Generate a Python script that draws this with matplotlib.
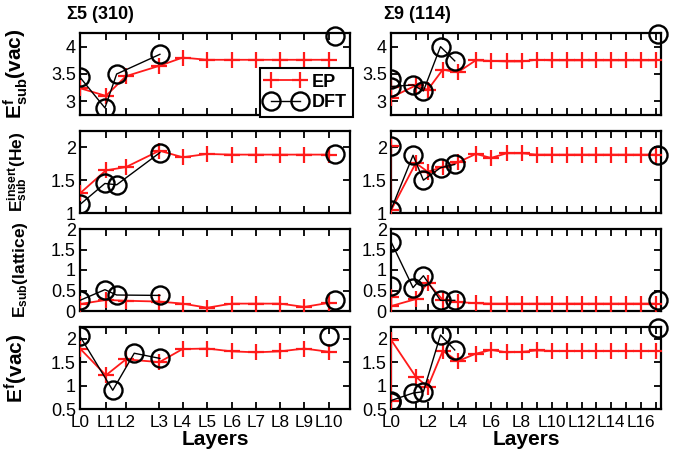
import matplotlib
matplotlib.use("Agg")
import matplotlib.pyplot as plt

plt.rcParams['font.family'] = ['Liberation Sans', 'DejaVu Sans']
plt.rcParams['mathtext.fontset'] = 'custom'
plt.rcParams['mathtext.rm'] = 'Liberation Sans:bold'
plt.rcParams['mathtext.bf'] = 'Liberation Sans:bold'
plt.rcParams['mathtext.it'] = 'Liberation Sans:bold'

# layer positions (distance from the boundary plane)
s5_layer_x = [0, 1.06, 1.88, 3.25, 4.20, 5.21, 6.21, 7.20, 8.19, 9.18, 10.2]
s5_layer_labels = ['L0', 'L1', 'L2', 'L3', 'L4', 'L5', 'L6', 'L7', 'L8', 'L9', 'L10']
s9_layer_x = [0, 1.65, 2.45, 3.45, 4.45, 5.65, 6.67, 7.71, 8.71, 9.71, 10.71,
              11.71, 12.71, 13.67, 14.65, 15.67, 16.65, 17.67]
s9_layer_labels = ['L0', '', 'L2', '', 'L4', '', 'L6', '', 'L8', '', 'L10',
                   '', 'L12', '', 'L14', '', 'L16', '']

# Sigma5 (310): EP on every layer, DFT near the boundary plus one bulk site
s5_ep_vac = [3.24, 3.10, 3.46, 3.65, 3.80, 3.76, 3.76, 3.76, 3.76, 3.76, 3.76]
s5_ep_he = [1.30, 1.65, 1.70, 1.95, 1.85, 1.90, 1.89, 1.89, 1.89, 1.89, 1.89]
s5_ep_lat = [0.17, 0.27, 0.25, 0.23, 0.18, 0.08, 0.18, 0.18, 0.18, 0.10, 0.20]
s5_ep_vf = [1.79, 1.22, 1.56, 1.50, 1.78, 1.79, 1.73, 1.71, 1.73, 1.79, 1.72]

s5_dft_x = [0, 1.02, 1.50, 3.27]
s5_dft_vac = [3.44, 2.88, 3.50, 3.86]
s5_dft_he = [1.13, 1.45, 1.43, 1.92]
s5_dft_lat = [0.26, 0.52, 0.39, 0.38]
s5_dft_vf_x = [0, 1.34, 2.22, 3.27]
s5_dft_vf = [2.05, 0.90, 1.69, 1.58]
s5_bulk_x = [10.42, 10.42, 10.42, 10.2]
s5_bulk = [4.20, 1.90, 0.27, 2.06]

# Sigma9 (114): two inequivalent sites in L0
s9_ep_x = [0] + s9_layer_x
s9_ep_vac = [3.27, 3.07, 3.29, 3.21, 3.58, 3.53, 3.75, 3.74, 3.73, 3.73, 3.76,
             3.75, 3.75, 3.75, 3.75, 3.75, 3.75, 3.75, 3.75]
s9_ep_he = [2.02, 1.04, 1.76, 1.63, 1.70, 1.77, 1.90, 1.84, 1.91, 1.91, 1.89,
            1.89, 1.89, 1.89, 1.89, 1.89, 1.89, 1.89, 1.89]
s9_ep_lat = [0.34, 0.12, 0.29, 0.69, 0.27, 0.22, 0.19, 0.18, 0.18, 0.18, 0.18,
             0.18, 0.18, 0.18, 0.18, 0.18, 0.18, 0.18, 0.18]
s9_ep_vf = [0.67, 1.98, 1.19, 0.97, 1.74, 1.52, 1.68, 1.76, 1.71, 1.72, 1.75,
            1.74, 1.74, 1.74, 1.74, 1.74, 1.74, 1.74, 1.74]

s9_dft_x = [0, 0, 1.47, 2.16, 3.30, 4.25]
s9_dft_vac = [3.41, 3.27, 3.30, 3.19, 4.00, 3.74]
s9_dft_he = [2.02, 1.05, 1.88, 1.50, 1.69, 1.74]
s9_dft_lat = [0.61, 1.69, 0.57, 0.86, 0.26, 0.26]
s9_dft_vf = [0.65, 0.68, 0.84, 0.87, 2.08, 1.76]
s9_bulk_x = 17.8
s9_bulk = [4.23, 1.89, 0.26, 2.22]

ylabels = [r'E$^{f}_{sub}$(vac)', r'E$^{insert}_{sub}$(He)',
           r'E$_{sub}$(lattice)', r'E$^{f}$(vac)']
ylabel_sizes = [15, 12.5, 12.5, 15]
ylims = [(2.75, 4.25), (1, 2.25), (0, 2), (0.5, 2.25)]
yticks = [[3, 3.5, 4], [1, 1.5, 2], [0, 0.5, 1, 1.5, 2], [0.5, 1, 1.5, 2]]
yticklabels = [['3', '3.5', '4'], ['1', '1.5', '2'], ['0', '0.5', '1', '1.5', '2'],
               ['0.5', '1', '1.5', '2']]

s5_ep = [s5_ep_vac, s5_ep_he, s5_ep_lat, s5_ep_vf]
s5_dft = [(s5_dft_x, s5_dft_vac), (s5_dft_x, s5_dft_he),
          (s5_dft_x, s5_dft_lat), (s5_dft_vf_x, s5_dft_vf)]
s9_ep = [s9_ep_vac, s9_ep_he, s9_ep_lat, s9_ep_vf]
s9_dft = [s9_dft_vac, s9_dft_he, s9_dft_lat, s9_dft_vf]

fig = plt.figure(figsize=(6.76, 4.57), dpi=100)
W, H = 676.0, 457.0
tops = [33, 131, 229, 327]
ph = 82

red = '#ff1a1a'
ep_kw = dict(color=red, marker='+', ms=11, mew=1.6, lw=1.3, label='EP', zorder=3)
dft_kw = dict(color='black', marker='o', ms=13, mfc='none', mew=1.7, lw=1.0,
              label='DFT', zorder=4)
bulk_kw = dict(color='black', marker='o', ms=13, mfc='none', mew=1.7, ls='none',
               zorder=4)


def style(ax, xticks, xlabels, row):
    ax.set_ylim(*ylims[row])
    ax.set_yticks(yticks[row])
    ax.set_yticklabels(yticklabels[row])
    ax.set_xticks(xticks)
    ax.set_xticklabels(xlabels if row == 3 else [])
    ax.tick_params(direction='in', top=True, right=True, length=5, width=1.3,
                   labelsize=13, pad=3)
    ax.tick_params(axis='x', pad=4, labelsize=12.3)
    for sp in ax.spines.values():
        sp.set_linewidth(1.6)


for row in range(4):
    bottom = 1 - (tops[row] + ph) / H
    axl = fig.add_axes([80 / W, bottom, 270 / W, ph / H])
    axr = fig.add_axes([391 / W, bottom, 270 / W, ph / H])

    axl.plot(s5_layer_x, s5_ep[row], **ep_kw)
    axl.plot(s5_dft[row][0], s5_dft[row][1], **dft_kw)
    axl.plot([s5_bulk_x[row]], [s5_bulk[row]], clip_on=False, **bulk_kw)
    axl.set_xlim(0, 11.05)
    style(axl, s5_layer_x, s5_layer_labels, row)
    axl.set_ylabel(ylabels[row], fontsize=ylabel_sizes[row], fontweight='bold')
    axl.yaxis.set_label_coords(-0.185, 0.5)

    axr.plot(s9_ep_x, s9_ep[row], **ep_kw)
    axr.plot(s9_dft_x, s9_dft[row], **dft_kw)
    axr.plot([s9_bulk_x], [s9_bulk[row]], clip_on=False, **bulk_kw)
    axr.set_xlim(0, 18)
    style(axr, s9_layer_x, s9_layer_labels, row)

    if row == 0:
        axl.text(-0.05, 1.1, r'$\Sigma$5 (310)', transform=axl.transAxes,
                 fontsize=13, fontweight='bold', va='bottom')
        axr.text(-0.03, 1.1, r'$\Sigma$9 (114)', transform=axr.transAxes,
                 fontsize=13, fontweight='bold', va='bottom')
        leg = axl.legend(loc='lower right', bbox_to_anchor=(1.01, -0.02),
                         numpoints=2, fancybox=False, framealpha=1,
                         edgecolor='black', handlelength=2.2, handletextpad=0.4,
                         borderpad=0.3, labelspacing=0.2, borderaxespad=0,
                         prop={'weight': 'bold', 'size': 13})
        leg.get_frame().set_linewidth(1.5)
    if row == 3:
        axl.set_xlabel('Layers', fontsize=15, fontweight='bold', labelpad=0)
        axr.set_xlabel('Layers', fontsize=15, fontweight='bold', labelpad=0)

plt.savefig('out.png', dpi=100)
